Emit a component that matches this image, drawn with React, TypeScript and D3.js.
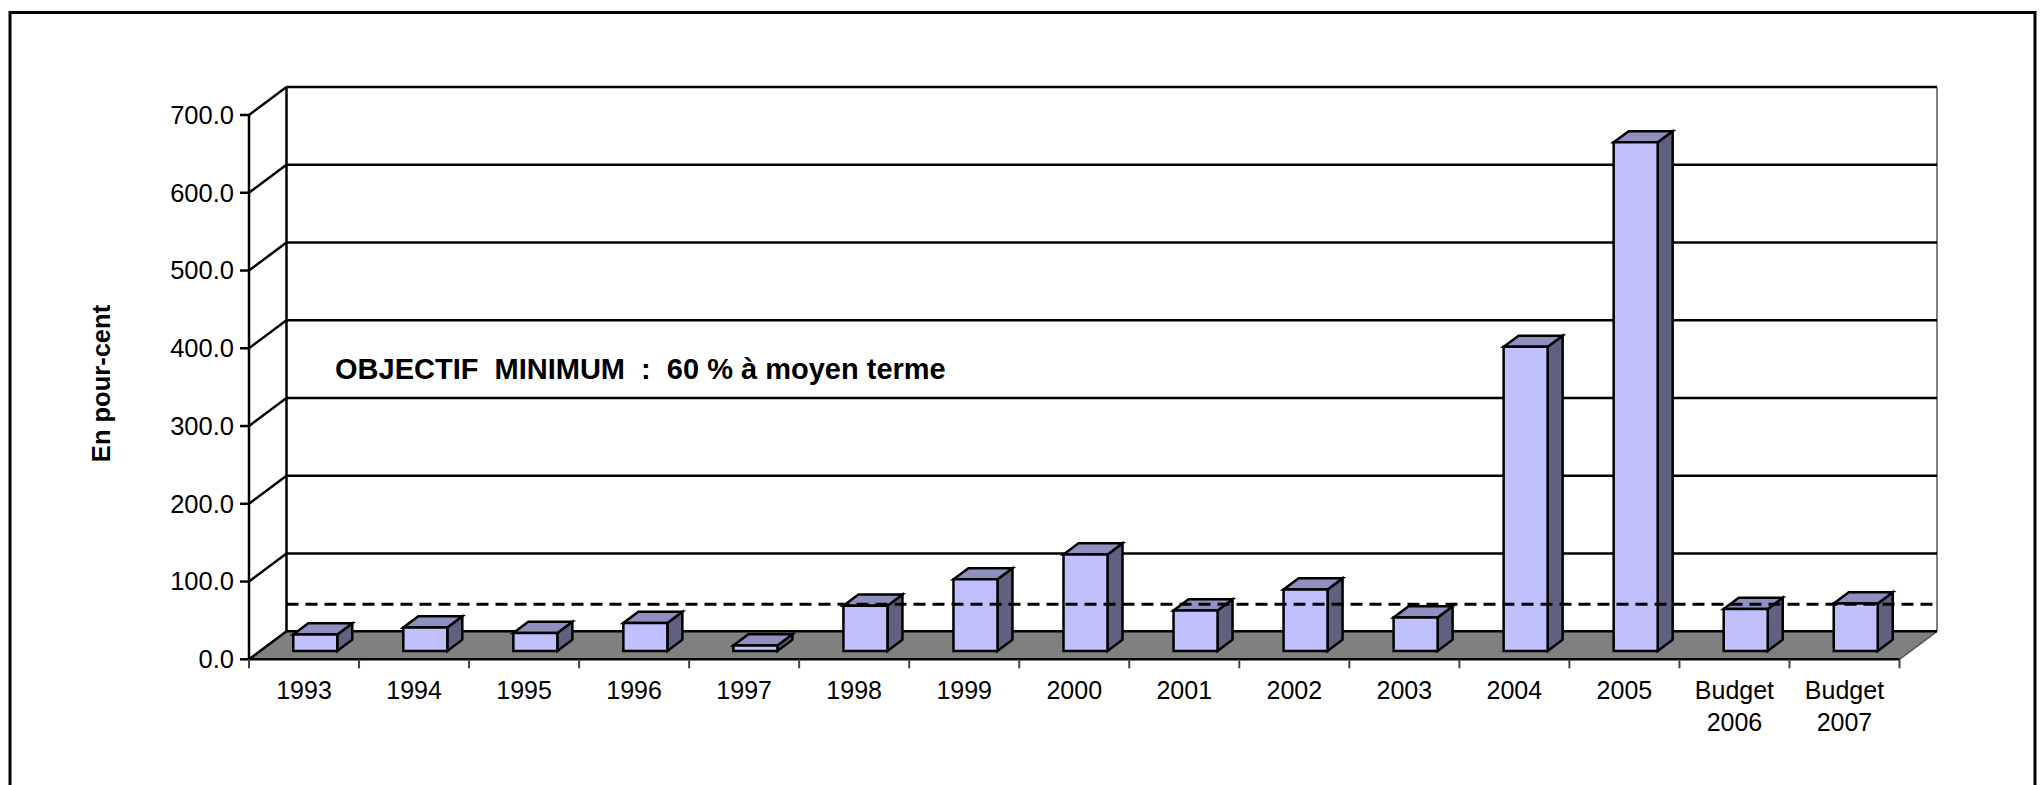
import React from "react";
import * as d3 from "d3";

const categories = ["1993", "1994", "1995", "1996", "1997", "1998", "1999", "2000", "2001", "2002", "2003", "2004", "2005", "Budget 2006", "Budget 2007"];
const values = [21, 30, 23, 36, 7, 58, 92, 124, 52, 79, 43, 391, 654, 54, 61];
const yTicks = [0, 100, 200, 300, 400, 500, 600, 700];
const objective = 60;
const objectiveLabel = "OBJECTIF  MINIMUM  :  60 % à moyen terme";
const yTitle = "En pour-cent";

const W = 2044;
const H = 785;
const FRONT_LEFT = 249;
const FRONT_RIGHT = 1899.5;
const Y0 = 659.3;
const Y700 = 115;
const DX = 37.5;
const DY = 28;
const F1 = 0.3;
const F2 = 0.7;
const FONT = "'Liberation Sans', Arial, sans-serif";

export default function App() {
  const x = d3.scaleBand<string>().domain(categories).range([FRONT_LEFT, FRONT_RIGHT]).padding(0);
  const y = d3.scaleLinear().domain([0, 700]).range([Y0, Y700]);
  const fmt = d3.format(".1f");
  const bw = x.bandwidth();
  const barW = bw * 0.4;
  const P = (px: number, py: number, f: number): [number, number] => [px + DX * f, py - DY * f];
  const pts = (arr: [number, number][]) => arr.map((p) => p.join(",")).join(" ");

  const floor = pts([P(FRONT_LEFT, Y0, 0), P(FRONT_RIGHT, Y0, 0), P(FRONT_RIGHT, Y0, 1), P(FRONT_LEFT, Y0, 1)]);
  const boundaries = categories.map((c) => x(c) as number).concat([FRONT_RIGHT]);
  const objY = y(objective) - DY * F1;

  return (
    <svg width={W} height={H} style={{ position: "absolute", left: 0, top: 0, display: "block", background: "#fff" }} fontFamily={FONT}>
      <rect x={10} y={12.5} width={2025} height={800} fill="none" stroke="#000" strokeWidth={3} />
      {/* floor */}
      <polygon points={floor} fill="#808080" stroke="none" />
      <line x1={P(FRONT_RIGHT, Y0, 0)[0]} y1={Y0} x2={P(FRONT_RIGHT, Y0, 1)[0]} y2={P(FRONT_RIGHT, Y0, 1)[1]} stroke="#555" strokeWidth={1.5} />
      {/* right wall edge */}
      <line x1={FRONT_RIGHT + DX} y1={Y700 - DY} x2={FRONT_RIGHT + DX} y2={Y0 - DY} stroke="#808080" strokeWidth={2} />
      {/* back gridlines and left wall */}
      {yTicks.map((t) => (
        <g key={t}>
          <line x1={FRONT_LEFT + DX} y1={y(t) - DY} x2={FRONT_RIGHT + DX} y2={y(t) - DY} stroke="#000" strokeWidth={2.5} />
          <line x1={FRONT_LEFT} y1={y(t)} x2={FRONT_LEFT + DX} y2={y(t) - DY} stroke="#000" strokeWidth={2.5} />
          <line x1={FRONT_LEFT - 9} y1={y(t)} x2={FRONT_LEFT} y2={y(t)} stroke="#000" strokeWidth={2.5} />
          <text x={FRONT_LEFT - 15} y={y(t)} dy="0.35em" textAnchor="end" fontSize={25.5} fill="#000">{fmt(t)}</text>
        </g>
      ))}
      <line x1={FRONT_LEFT + DX} y1={Y700 - DY} x2={FRONT_LEFT + DX} y2={Y0 - DY} stroke="#000" strokeWidth={2.5} />
      <line x1={FRONT_LEFT} y1={Y700} x2={FRONT_LEFT} y2={Y0} stroke="#000" strokeWidth={2.5} />
      <line x1={FRONT_LEFT} y1={Y0} x2={FRONT_RIGHT} y2={Y0} stroke="#000" strokeWidth={2.5} />
      {/* category ticks */}
      {boundaries.map((b, i) => (
        <line key={i} x1={b} y1={Y0} x2={b} y2={Y0 + 9} stroke="#444" strokeWidth={2} />
      ))}
      {/* bars */}
      {categories.map((c, i) => {
        const x0 = (x(c) as number) + (bw - barW) / 2;
        const x1 = x0 + barW;
        const yv = y(values[i]);
        const front = pts([P(x0, yv, F1), P(x1, yv, F1), P(x1, Y0, F1), P(x0, Y0, F1)]);
        const top = pts([P(x0, yv, F1), P(x1, yv, F1), P(x1, yv, F2), P(x0, yv, F2)]);
        const side = pts([P(x1, yv, F1), P(x1, yv, F2), P(x1, Y0, F2), P(x1, Y0, F1)]);
        return (
          <g key={c} stroke="#000" strokeWidth={2.5} strokeLinejoin="miter">
            <polygon points={side} fill="#606080" />
            <polygon points={top} fill="#9090C0" />
            <polygon points={front} fill="#C0C0FF" />
          </g>
        );
      })}
      {/* objective dashed line */}
      <line x1={FRONT_LEFT + DX} y1={objY} x2={FRONT_RIGHT + DX} y2={objY} stroke="#000" strokeWidth={3} strokeDasharray="12 7" />
      {/* category labels */}
      {categories.map((c) => {
        const cx = (x(c) as number) + bw / 2;
        const lines = c.startsWith("Budget") ? c.split(" ") : [c];
        return (
          <text key={c} x={cx} y={698.5} textAnchor="middle" fontSize={25} fill="#000">
            {lines.map((l, j) => (
              <tspan key={j} x={cx} y={698.5 + j * 32.5}>{l}</tspan>
            ))}
          </text>
        );
      })}
      <text x={335} y={379} fontSize={29} fontWeight="bold" fill="#000" style={{ whiteSpace: "pre" }}>{objectiveLabel}</text>
      <text transform="translate(110,383.5) rotate(-90)" textAnchor="middle" fontSize={25.5} fontWeight="bold" fill="#000">{yTitle}</text>
    </svg>
  );
}
